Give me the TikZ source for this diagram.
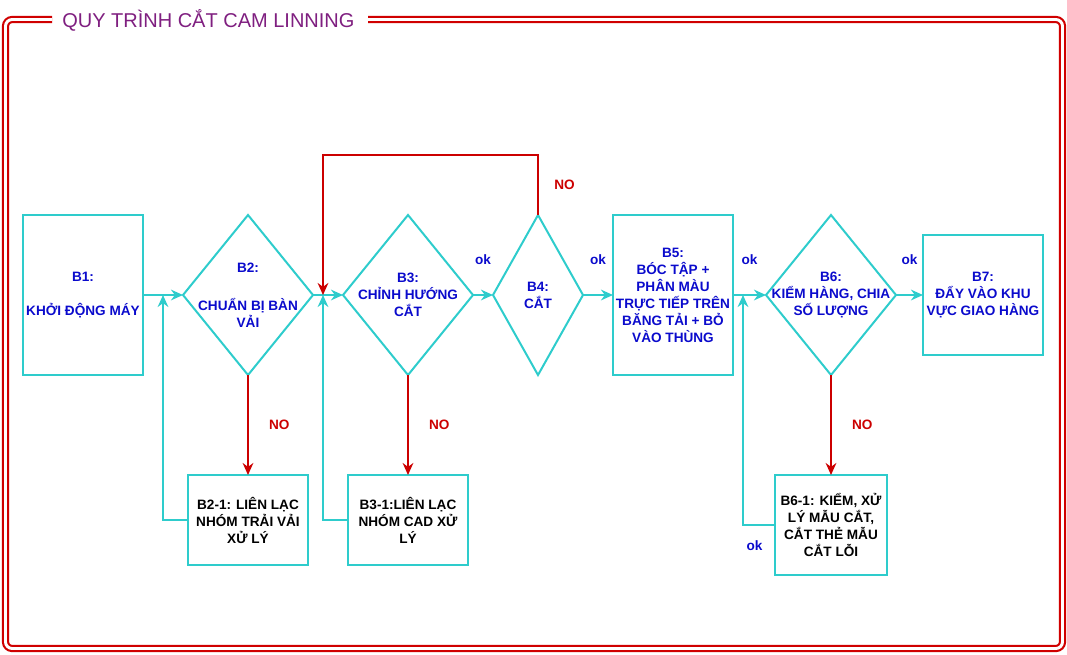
\documentclass[tikz,border=0pt]{standalone}
\usepackage{fontspec}
\setmainfont{Liberation Sans}
\usetikzlibrary{arrows.meta,positioning,shapes.geometric,calc}
\definecolor{cyanln}{HTML}{2ECCCC}
\definecolor{bluetx}{HTML}{0A0ACC}
\definecolor{redln}{HTML}{CC0000}
\definecolor{redfr}{HTML}{D00000}
\definecolor{purptl}{HTML}{7F1F80}
\newcommand{\stepfont}{\fontsize{10.2}{12.75}\selectfont\bfseries}
\tikzset{
  stepbox/.style={draw=cyanln,line width=1.5pt,rectangle,minimum width=90pt,minimum height=120pt,inner sep=0pt,outer sep=0pt,align=center,font=\stepfont,text=bluetx},
  subbox/.style={stepbox,minimum height=67.5pt,text=black},
  decbox/.style={draw=cyanln,line width=1.5pt,diamond,minimum width=97.5pt,minimum height=120pt,inner sep=0pt,outer sep=0pt},
  dectxt/.style={align=center,font=\stepfont,text=bluetx,inner sep=0pt},
  flow/.style={-{Stealth[length=9pt,width=8pt]},draw=cyanln,line width=1.5pt},
  noflow/.style={-{Stealth[length=9pt,width=8pt]},draw=redln,line width=1.5pt},
  oklbl/.style={font=\stepfont,text=bluetx,inner sep=0pt},
  nolbl/.style={font=\stepfont,text=redln,inner sep=0pt},
  frame/.style={draw=redfr,double=white,line width=1.6pt,double distance=2.2pt,rounded corners=5pt}
}
\begin{document}
\begin{tikzpicture}[x=0.75pt,y=-0.75pt]
  \useasboundingbox (0,0) rectangle (1067,654);
  % outer frame and title
  \node[font=\fontsize{15}{17}\selectfont,text=purptl,anchor=west,inner sep=0pt] (title) at (62,20) {QUY TRÌNH CẮT CAM LINNING};
  \draw[frame] (52,19.5) -| (5.5,648.5) -| (1062.5,19.5) -- (368,19.5);

  % main row
  \node[stepbox] (b1) at (83,295) {B1:\\[12.75pt]KHỞI ĐỘNG MÁY};
  \node[decbox, right=30pt of b1, label={[dectxt]center:{B2:\\[15.75pt]CHUẨN BỊ BÀN\\VẢI}}] (b2) {};
  \node[decbox, right=22.5pt of b2, label={[dectxt]center:{B3:\\CHỈNH HƯỚNG\\CẮT}}] (b3) {};
  \node[decbox, minimum width=67.5pt, right=15pt of b3, label={[dectxt]center:{B4:\\CẮT}}] (b4) {};
  \node[stepbox, right=22.5pt of b4] (b5) {B5:\\BÓC TẬP +\\PHÂN MÀU\\TRỰC TIẾP TRÊN\\BĂNG TẢI + BỎ\\VÀO THÙNG};
  \node[decbox, right=24.75pt of b5, label={[dectxt]center:{B6:\\KIỂM HÀNG, CHIA\\SỐ LƯỢNG}}] (b6) {};
  \node[stepbox, minimum height=90pt, right=20.25pt of b6] (b7) {B7:\\ĐẨY VÀO KHU\\VỰC GIAO HÀNG};

  % error branches
  \node[subbox, below=75pt of b2] (b21) {B2-1: LIÊN LẠC\\NHÓM TRẢI VẢI\\XỬ LÝ};
  \node[subbox, below=75pt of b3] (b31) {B3-1:LIÊN LẠC\\NHÓM CAD XỬ\\LÝ};
  \node[subbox, minimum width=84pt, minimum height=75pt, below=75pt of b6] (b61) {B6-1: KIỂM, XỬ\\LÝ MẪU CẮT,\\CẮT THẺ MẪU\\CẮT LỖI};

  \coordinate (j2) at ($(b1.east)!0.5!(b2.west)$);
  \coordinate (j3) at ($(b2.east)+(10,0)$);
  \coordinate (j6) at ($(b5.east)+(10,0)$);
  \coordinate (top4) at ($(b4.north)+(0,-60)$);

  \draw[flow] (b1.east) -- (b2.west);
  \draw[flow] (b2.east) -- (b3.west);
  \draw[flow] (b3.east) -- (b4.west) node[oklbl, midway, above=22pt] {ok};
  \draw[flow] (b4.east) -- (b5.west) node[oklbl, midway, above=22pt] {ok};
  \draw[flow] (b5.east) -- (b6.west) node[oklbl, midway, above=22pt] {ok};
  \draw[flow] (b6.east) -- (b7.west) node[oklbl, midway, above=22pt] {ok};

  \draw[noflow] (b2.south) -- (b21.north) node[nolbl, midway, right=15pt] {NO};
  \draw[noflow] (b3.south) -- (b31.north) node[nolbl, midway, right=15pt] {NO};
  \draw[noflow] (b6.south) -- (b61.north) node[nolbl, midway, right=15pt] {NO};
  \draw[noflow] (b4.north) -- (top4) node[nolbl, midway, right=11.5pt] {NO} -| (j3);

  \draw[flow] (b21.west) -| (j2);
  \draw[flow] (b31.west) -| (j3);
  \draw[flow] (b61.west) -| (j6) node[oklbl, pos=0.32, below=11pt] {ok};
\end{tikzpicture}
\end{document}
